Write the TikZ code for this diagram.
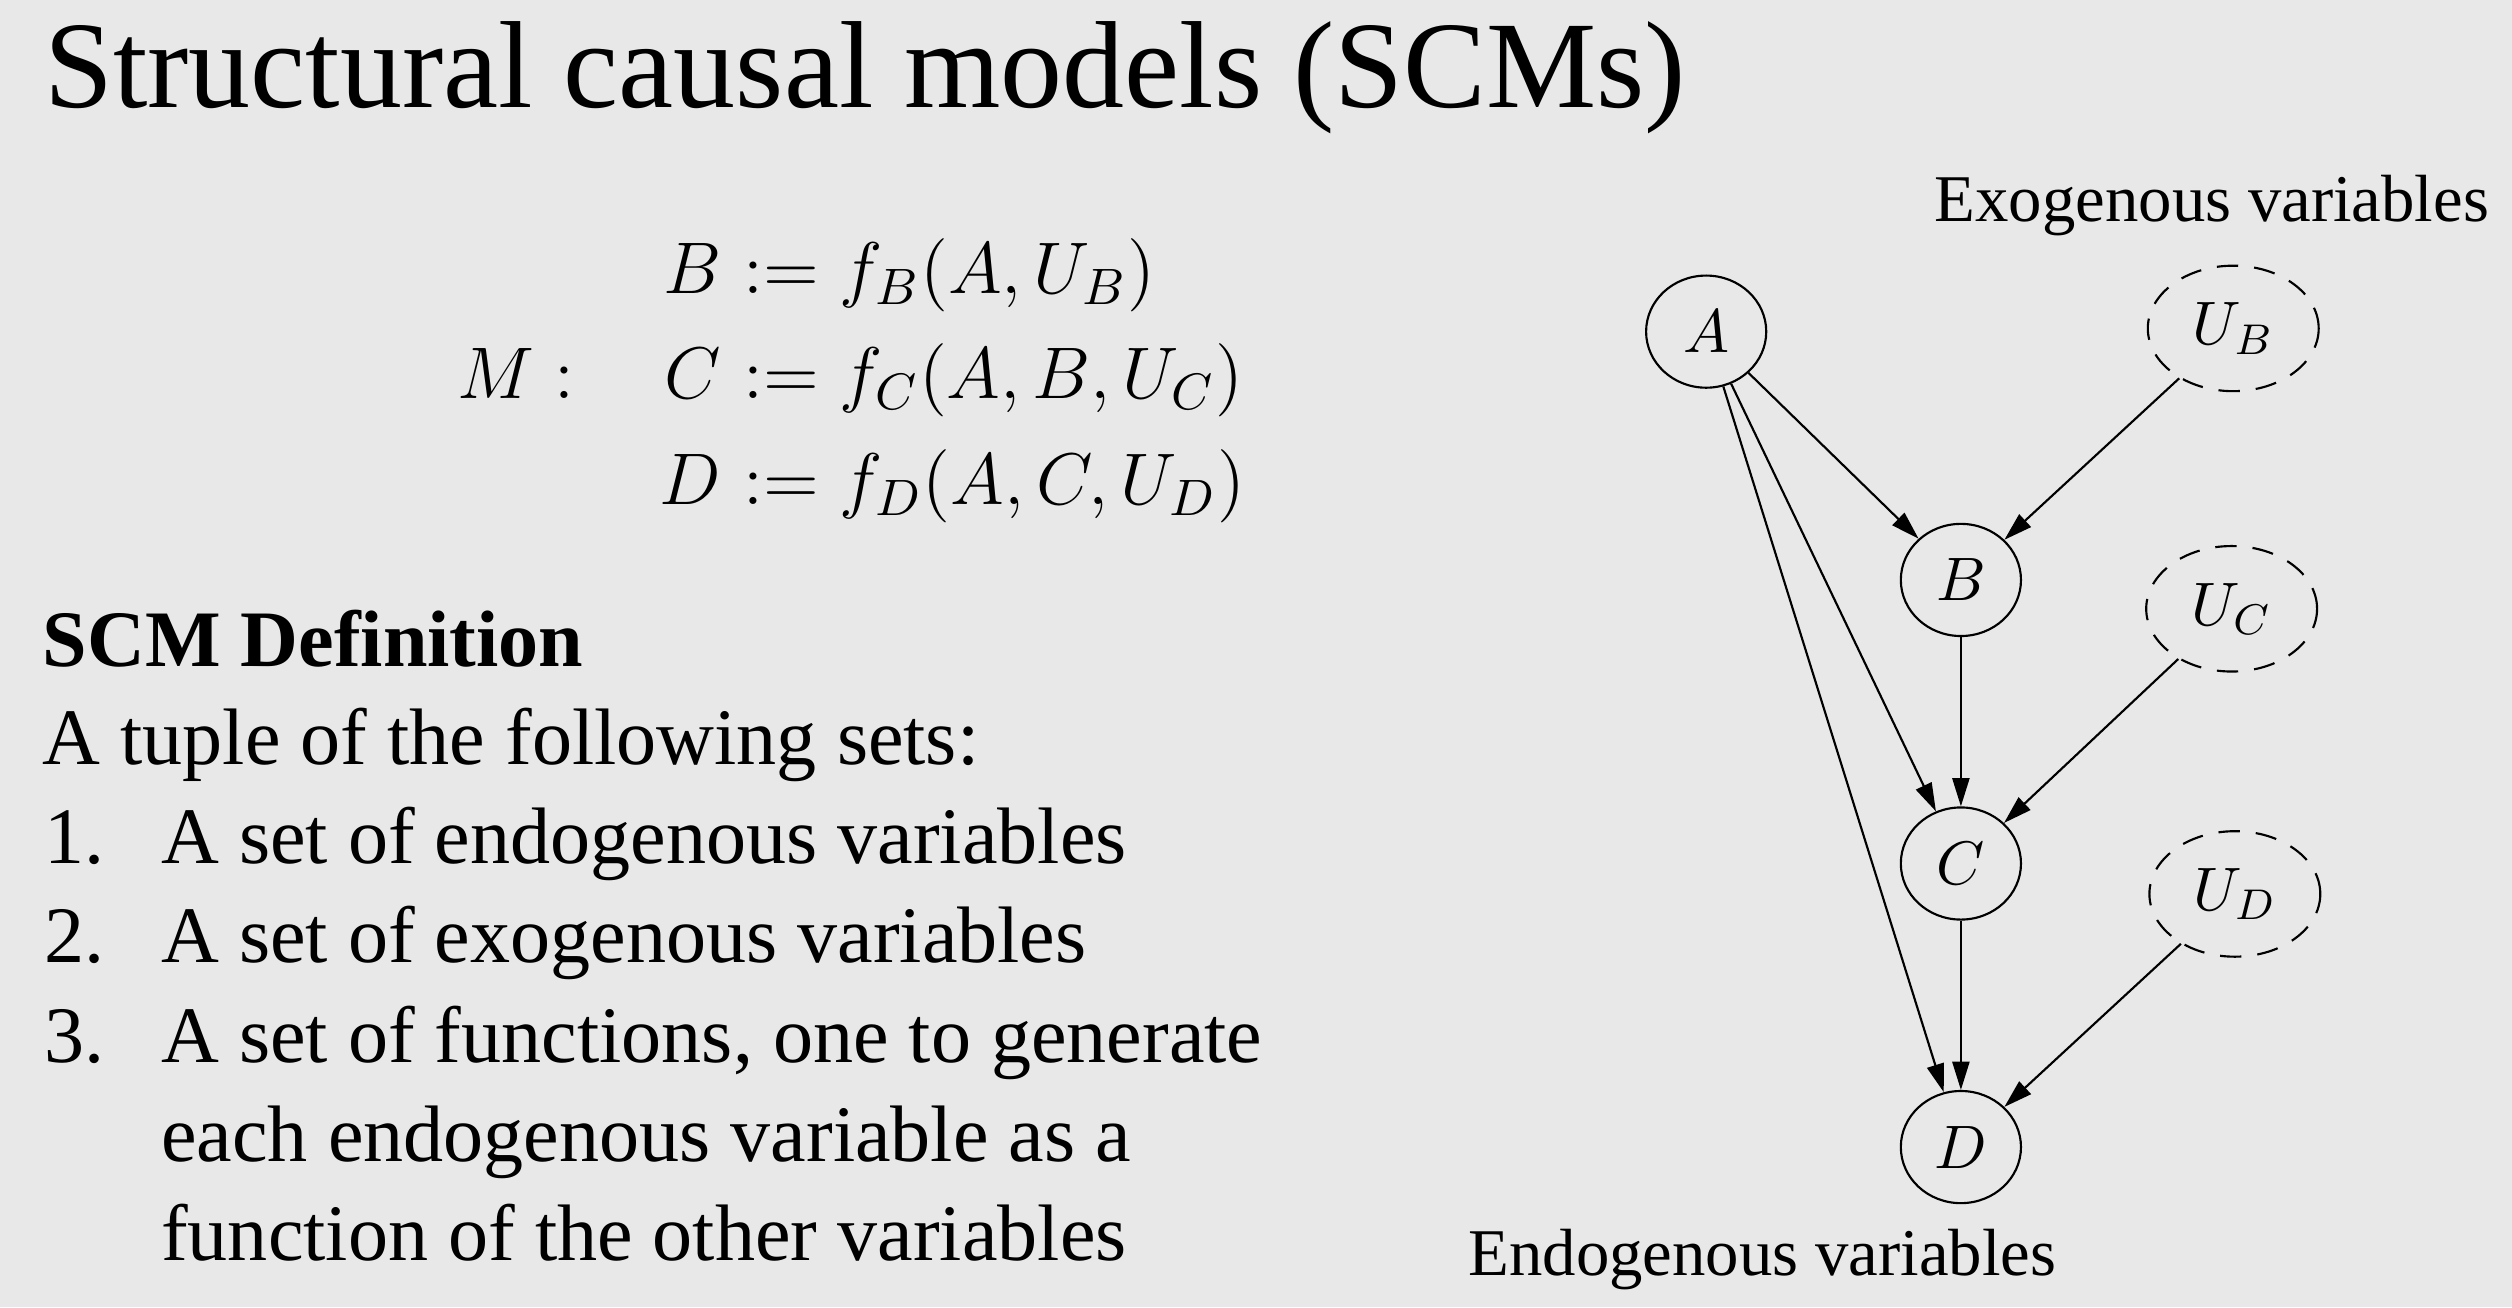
\RequirePackage{fix-cm}
\documentclass[tikz,border=0pt]{standalone}
\usepackage[no-math]{fontspec}
\setmainfont{Liberation Serif}
\usetikzlibrary{arrows.meta,shapes.geometric}
\definecolor{fondo}{RGB}{232,232,232}

\begin{document}
\begin{tikzpicture}[x=0.3pt,y=-0.3pt,
  endo/.style={draw,ellipse,inner sep=0pt,minimum width=22.5pt,minimum height=21pt,font=\fontsize{11.5pt}{13pt}\selectfont},
  exo/.style={endo,dash pattern=on 4pt off 3pt,minimum width=32pt,minimum height=23.5pt},
  arr/.style={-{Triangle[length=5.3pt,width=3.2pt]}},
  texto/.style={anchor=base west,inner sep=0pt,font=\fontsize{15pt}{18pt}\selectfont},
  rotulo/.style={anchor=base west,inner sep=0pt,font=\fontsize{12.5pt}{15pt}\selectfont},
  ecu/.style={inner sep=0pt,font=\fontsize{13.7pt}{17pt}\selectfont}
  ]

  \fill[fondo] (0,0) rectangle (1568,816);
  \useasboundingbox (0,0) rectangle (1568,816);

  \node[anchor=base west,inner sep=0pt,font=\fontsize{23.2pt}{28pt}\selectfont] (titulo) at (27,67) {Structural causal models (SCMs)};

  % ecuaciones del modelo
  \node[ecu,anchor=base west] (m) at (285,249) {$M:$};
  \node[ecu,anchor=base east] (lb) at (451,183) {$B$};
  \node[ecu,anchor=base west] (rb) at (451,183) {${}:= f_B(A,U_B)$};
  \node[ecu,anchor=base east] (lc) at (451,249) {$C$};
  \node[ecu,anchor=base west] (rc) at (451,249) {${}:= f_C(A,B,U_C)$};
  \node[ecu,anchor=base east] (ld) at (451,315) {$D$};
  \node[ecu,anchor=base west] (rd) at (451,315) {${}:= f_D(A,C,U_D)$};

  % definicion
  \node[texto,font=\fontsize{15pt}{18pt}\selectfont\bfseries] (def) at (26,416) {SCM Definition};
  \node[texto] (tupla) at (26,477) {A tuple of the following sets:};
  \node[texto] (n1) at (27,539) {1.};
  \node[texto] (i1) at (100,539) {A set of endogenous variables};
  \node[texto] (n2) at (27,601) {2.};
  \node[texto] (i2) at (100,601) {A set of exogenous variables};
  \node[texto] (n3) at (27,663) {3.};
  \node[texto] (i3) at (100,663) {A set of functions, one to generate};
  \node[texto] (i3b) at (100,725) {each endogenous variable as a};
  \node[texto] (i3c) at (100,787) {function of the other variables};

  % grafo
  \node[endo] (A) at (1065,207) {$A$};
  \node[endo] (B) at (1224,362) {$B$};
  \node[endo] (C) at (1224,539) {$C$};
  \node[endo] (D) at (1224,716) {$D$};
  \node[exo] (UB) at (1394,205) {$U_B$};
  \node[exo] (UC) at (1393,380) {$U_C$};
  \node[exo] (UD) at (1395,558) {$U_D$};

  \node[rotulo] (exotxt) at (1207,138) {Exogenous variables};
  \node[rotulo] (endotxt) at (916,796) {Endogenous variables};

  \path (A) edge[arr] (B) edge[arr] (C) edge[arr] (D);
  \path (B) edge[arr] (C);
  \path (C) edge[arr] (D);
  \path (UB) edge[arr] (B);
  \path (UC) edge[arr] (C);
  \path (UD) edge[arr] (D);

\end{tikzpicture}
\end{document}
